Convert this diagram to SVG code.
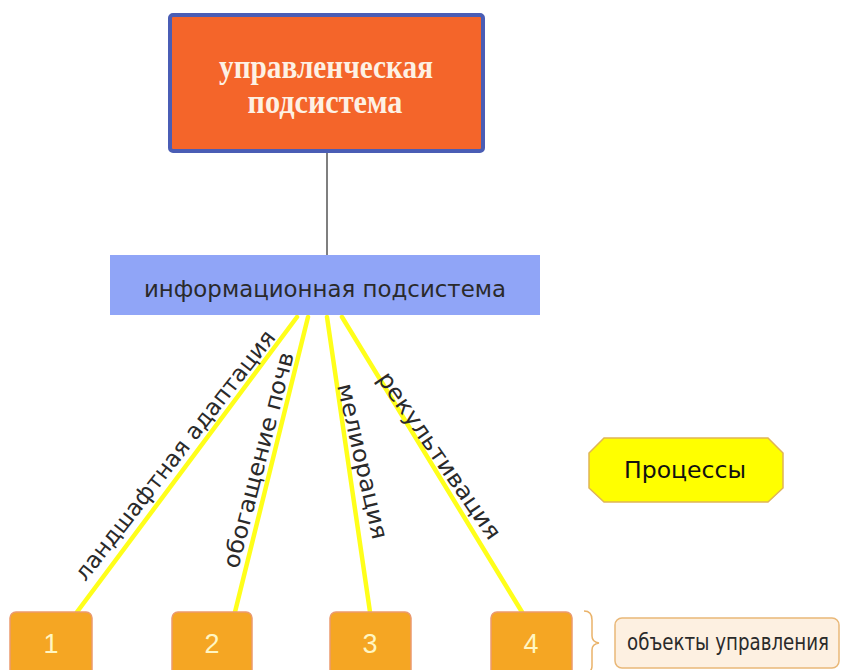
<svg xmlns="http://www.w3.org/2000/svg" width="842" height="670" viewBox="0 0 842 670">
<style>
.lbl{font-family:"DejaVu Sans","Liberation Sans",sans-serif;font-size:23px;fill:#2a2a2a}
.yl{stroke:#ffff1a;stroke-width:4.5;stroke-linecap:round;fill:none}
.obj rect{fill:#f5a623;stroke:#eb9a6e;stroke-width:1.5}
.num{font-family:"Liberation Sans",Arial,sans-serif;font-size:27px;fill:#fff6c2;text-anchor:middle}
</style>
<rect width="842" height="670" fill="#ffffff"/>
<g id="connectors">
<line x1="327" y1="152" x2="327" y2="255" stroke="#555" stroke-width="1.5"/>
<line class="yl" x1="297" y1="317" x2="77" y2="612"/>
<line class="yl" x1="308" y1="317" x2="235" y2="612"/>
<line class="yl" x1="327" y1="317" x2="370" y2="612"/>
<line class="yl" x1="342" y1="317" x2="522" y2="612"/>
<path d="M584,611 Q592,611 592,620 L592,636 Q592,642 599,643 Q592,644 592,650 L592,666 Q592,673 584,673" fill="none" stroke="#eab36a" stroke-width="1.5"/>
</g>
<g id="edge-labels">
<text class="lbl" transform="translate(181,460) rotate(-52)" text-anchor="middle" textLength="310" lengthAdjust="spacingAndGlyphs">ландшафтная адаптация</text>
<text class="lbl" transform="translate(266,462) rotate(-75.4)" text-anchor="middle" textLength="222" lengthAdjust="spacingAndGlyphs">обогащение почв</text>
<text class="lbl" transform="translate(355,463) rotate(77)" text-anchor="middle" textLength="159" lengthAdjust="spacingAndGlyphs">мелиорация</text>
<text class="lbl" transform="translate(433,460) rotate(55.3)" text-anchor="middle" textLength="198" lengthAdjust="spacingAndGlyphs">рекультивация</text>
</g>
<g id="mgmt">
<rect x="170" y="15" width="313" height="136" rx="3" fill="#f4652a" stroke="#4a5db5" stroke-width="4"/>
<text x="326" y="78" text-anchor="middle" font-family="Liberation Serif,serif" font-size="33" font-weight="bold" fill="#fdf1e4" textLength="214" lengthAdjust="spacingAndGlyphs">управленческая</text>
<text x="325" y="113" text-anchor="middle" font-family="Liberation Serif,serif" font-size="33" font-weight="bold" fill="#fdf1e4" textLength="155" lengthAdjust="spacingAndGlyphs">подсистема</text>
</g>
<g id="info">
<rect x="110" y="255" width="430" height="60" fill="#90a5f7"/>
<text x="325" y="297" text-anchor="middle" class="lbl" font-size="24" textLength="362" lengthAdjust="spacingAndGlyphs">информационная подсистема</text>
</g>
<g id="processes">
<polygon points="604,438 768,438 783,453 783,488 768,502 604,502 589,488 589,453" fill="#ffff00" stroke="#e0b556" stroke-width="1.5"/>
<text x="685" y="478" text-anchor="middle" class="lbl" font-size="24" textLength="122" lengthAdjust="spacingAndGlyphs" style="fill:#111">Процессы</text>
</g>
<g id="obj1" class="obj"><rect x="10" y="612" width="82" height="66" rx="6"/><text class="num" x="51" y="653">1</text></g>
<g id="obj2" class="obj"><rect x="172" y="612" width="80" height="66" rx="6"/><text class="num" x="212" y="653">2</text></g>
<g id="obj3" class="obj"><rect x="330" y="612" width="81" height="66" rx="6"/><text class="num" x="370" y="653">3</text></g>
<g id="obj4" class="obj"><rect x="491" y="612" width="81" height="66" rx="6"/><text class="num" x="531" y="653">4</text></g>
<g id="objects-label">
<rect x="615" y="618" width="224" height="50" rx="7" fill="#fdf0e1" stroke="#e9b878" stroke-width="1.5"/>
<text x="627" y="650" class="lbl" font-size="19" textLength="202" lengthAdjust="spacingAndGlyphs">объекты управления</text>
</g>
</svg>
